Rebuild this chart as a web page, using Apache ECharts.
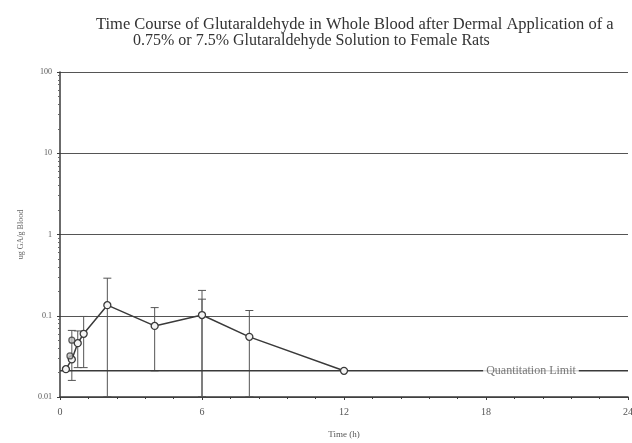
<!DOCTYPE html>
<html><head><meta charset="utf-8">
<script src="https://cdn.jsdelivr.net/npm/echarts@6/dist/echarts.min.js"></script>
<style>html,body{margin:0;padding:0;background:#fff}#c{width:632px;height:443px}</style>
</head><body><div id="c"></div>
<script>
var titleLine1 = "Time Course of Glutaraldehyde in Whole Blood after Dermal Application of a";
var titleLine2 = "0.75% or 7.5% Glutaraldehyde Solution to Female Rats";
var xTicks = [0, 6, 12, 18, 24];
var yTicks = [0.01, 0.1, 1, 10, 100];
var times = [0.25, 0.5, 0.75, 1, 2, 4, 6, 8, 12];
var meanValues = [0.022, 0.029, 0.046, 0.06, 0.135, 0.075, 0.102, 0.055, 0.021];
var extraTimes = [0.5, 0.42];
var extraValues = [0.05, 0.032];
var errTimes = [0.5, 0.75, 1, 2, 4, 6, 6, 8];
var errLow = [0.016, 0.023, 0.023, 0.0101, 0.021, 0.0101, 0.0101, 0.0101];
var errHigh = [0.066, 0.065, 0.098, 0.29, 0.126, 0.205, 0.16, 0.116];
var quantLimit = 0.021;
var quantLabelTime = 19.9;

var chart = echarts.init(document.getElementById('c'));
var serif = 'Liberation Serif';
var ink = '#3a3a3a';
chart.setOption({
  animation: false,
  backgroundColor: '#fff',
  title: [
    {text: titleLine1, left: 91, top: 11, textStyle: {fontFamily: serif, fontSize: 16.5, fontWeight: 'normal', color: '#333'}},
    {text: titleLine2, left: 128, top: 28, textStyle: {fontFamily: serif, fontSize: 16, fontWeight: 'normal', color: '#333'}}
  ],
  grid: {left: 60, right: 4, top: 72, bottom: 46, containLabel: false, outerBoundsMode: 'none'},
  xAxis: {
    type: 'value', min: xTicks[0], max: xTicks[xTicks.length - 1], interval: 6,
    name: 'Time (h)', nameLocation: 'middle', nameGap: 33,
    nameTextStyle: {fontFamily: serif, fontSize: 9, color: '#555'},
    axisLine: {show: true, lineStyle: {color: ink, width: 1.5}},
    axisTick: {show: true, inside: false, length: 3, lineStyle: {color: ink}},
    minorTick: {show: true, splitNumber: 5, length: 2, lineStyle: {color: ink}},
    axisLabel: {fontFamily: serif, fontSize: 10, color: '#555', margin: 10},
    splitLine: {show: false}
  },
  yAxis: {
    type: 'log', logBase: 10, min: yTicks[0], max: yTicks[yTicks.length - 1],
    name: 'ug GA/g Blood', nameLocation: 'middle', nameGap: 35, nameRotate: 90,
    nameTextStyle: {fontFamily: serif, fontSize: 8, color: '#666'},
    axisLine: {show: true, lineStyle: {color: ink, width: 1.5}},
    axisTick: {show: true, length: 3, lineStyle: {color: ink}},
    minorTick: {show: true, splitNumber: 9, length: 2, lineStyle: {color: '#666'}},
    axisLabel: {fontFamily: serif, fontSize: 8, color: '#555', margin: 8,
      formatter: function (v) { return String(+v.toPrecision(3)); }},
    splitLine: {show: true, lineStyle: {color: '#555', width: 1.2}}
  },
  series: [
    {
      type: 'custom', name: 'err', z: 2,
      data: errTimes.map(function (t, i) { return [t, errLow[i], errHigh[i]]; }),
      renderItem: function (params, api) {
        var lo = api.coord([api.value(0), api.value(1)]);
        var hi = api.coord([api.value(0), api.value(2)]);
        var st = {stroke: '#555', lineWidth: 1};
        return {type: 'group', children: [
          {type: 'line', shape: {x1: lo[0], y1: lo[1], x2: hi[0], y2: hi[1]}, style: st},
          {type: 'line', shape: {x1: hi[0] - 4, y1: hi[1], x2: hi[0] + 4, y2: hi[1]}, style: st},
          {type: 'line', shape: {x1: lo[0] - 4, y1: lo[1], x2: lo[0] + 4, y2: lo[1]}, style: st}
        ]};
      }
    },
    {
      type: 'line', name: 'mean', z: 4,
      data: times.map(function (t, i) { return [t, meanValues[i]]; }),
      symbol: 'circle', symbolSize: 7, showAllSymbols: true,
      lineStyle: {color: ink, width: 1.5},
      itemStyle: {color: '#f4f4f4', borderColor: ink, borderWidth: 1.3}
    },
    {
      type: 'scatter', name: 'extra', z: 5,
      data: extraTimes.map(function (t, i) { return [t, extraValues[i]]; }),
      symbol: 'circle', symbolSize: 6,
      itemStyle: {color: '#bbb', borderColor: ink, borderWidth: 1.2}
    },
    {
      type: 'line', name: 'quant', z: 3,
      data: [[xTicks[0], quantLimit], [xTicks[xTicks.length - 1], quantLimit]],
      symbol: 'none', lineStyle: {color: ink, width: 1.5}
    },
    {
      type: 'scatter', name: 'quantLabel', z: 6,
      data: [[quantLabelTime, quantLimit]],
      symbolSize: 0,
      label: {show: true, position: 'inside', formatter: 'Quantitation Limit',
        fontFamily: serif, fontSize: 12, color: '#555', backgroundColor: '#fff', padding: [1, 3]}
    }
  ]
});
</script>
</body></html>
